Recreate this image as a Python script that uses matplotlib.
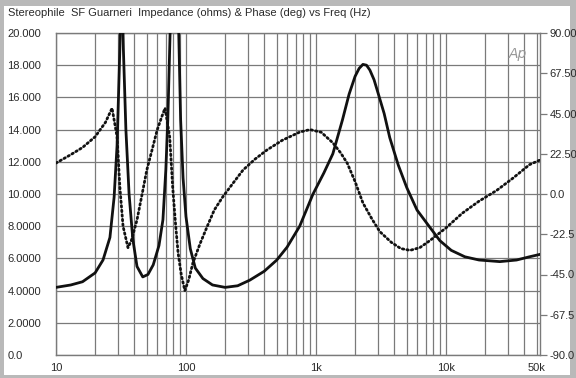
import matplotlib
matplotlib.use('Agg')
import matplotlib.pyplot as plt
from matplotlib.patches import Rectangle

# Data (Hz, ohms / degrees)
imp_freq = [10, 13, 16, 20, 23, 26, 28, 29.5, 31, 32, 33, 34.5, 36.5, 39, 42,
            46.5, 51, 56, 62, 66.5, 70, 72.5, 75.5, 80, 84, 88, 91, 95, 100,
            108, 118, 135, 160, 200, 250, 310, 400, 500, 600, 750, 950, 1150,
            1350, 1600, 1800, 2000, 2150, 2300, 2450, 2600, 2800, 3000, 3350,
            3700, 4300, 5000, 6000, 7500, 9000, 11000, 14000, 18000, 26000,
            35000, 44000, 53000]
imp_ohms = [4.2, 4.35, 4.55, 5.1, 5.9, 7.3, 9.8, 13.0, 19.0, 24.0, 19.0, 14.0,
            10.0, 7.2, 5.5, 4.85, 5.0, 5.6, 6.8, 8.4, 11.5, 14.6, 20.0, 27.0,
            28.0, 20.0, 14.6, 11.0, 8.6, 6.6, 5.4, 4.75, 4.35, 4.2, 4.3, 4.65,
            5.2, 5.9, 6.7, 8.0, 10.0, 11.3, 12.5, 14.6, 16.2, 17.3, 17.8, 18.05,
            18.0, 17.7, 17.1, 16.3, 15.0, 13.5, 11.8, 10.4, 9.0, 7.95, 7.1,
            6.5, 6.1, 5.9, 5.8, 5.9, 6.1, 6.25]

ph_freq = [10, 13, 16, 20, 24, 27, 29.5, 31, 32.8, 35.8, 38, 42, 46, 50, 55,
           60, 65, 69, 72, 75, 79, 83, 87, 92, 98, 105, 113, 128, 145, 165,
           192, 230, 275, 340, 420, 550, 750, 900, 1100, 1350, 1550, 1740,
           2000, 2300, 2700, 3100, 3800, 4500, 5300, 6300, 7550, 10000, 13400,
           18000, 24600, 33000, 44000, 53000]
ph_deg = [17.3, 22, 26, 32, 40, 48, 32, 4, -18, -30, -26, -14.5, 0, 13.5, 25,
          35.7, 43, 48, 40, 31.8, 4, -16, -33, -45, -54, -48, -38.6, -28,
          -18.5, -9, -1.6, 6, 13.4, 19.5, 24.6, 30, 34.6, 36, 34.5, 28.6, 23,
          17.3, 7, -5, -14, -21, -27, -30.5, -31.5, -30, -26, -19, -10.7, -4,
          2, 9, 16.4, 19]

grid_freqs = [f * m for m in (10, 100, 1000) for f in range(1, 10)] + [10000, 20000, 30000, 40000, 50000]
x_labels = {10: '10', 100: '100', 1000: '1k', 10000: '10k', 50000: '50k'}
ohm_ticks = [0, 2, 4, 6, 8, 10, 12, 14, 16, 18, 20]
ohm_labels = ['0.0', '2.0000', '4.0000', '6.0000', '8.0000', '10.000',
              '12.000', '14.000', '16.000', '18.000', '20.000']
deg_ticks = [-90, -67.5, -45, -22.5, 0, 22.5, 45, 67.5, 90]
deg_labels = ['-90.0', '-67.5', '-45.0', '-22.5', '0.0', '22.50', '45.00', '67.50', '90.00']

plt.rcParams['font.family'] = ['Liberation Sans', 'DejaVu Sans']
txt = '#2a2a2a'
gridc = '#7a7a7a'

W, H = 576, 378
fig = plt.figure(figsize=(W / 100, H / 100), dpi=100, facecolor='#b9b9b9')
fig.patches.append(Rectangle((4 / W, 3 / H), 566 / W, 369 / H,
                             transform=fig.transFigure, facecolor='white',
                             edgecolor='none', zorder=-10))

ax = fig.add_axes([56 / W, (H - 355) / H, 484 / W, 322 / H])
ax.set_xscale('log')
ax.patch.set_alpha(0)

ax.set_xticks(grid_freqs)
ax.set_xticklabels([x_labels.get(f, '') for f in grid_freqs])
ax.xaxis.set_minor_locator(matplotlib.ticker.NullLocator())
ax.set_yticks(ohm_ticks)
ax.set_yticklabels(ohm_labels, ha='left')
ax.set_xlim(10, 53000)
ax.set_ylim(0, 20)
ax.tick_params(axis='y', length=0, pad=35, labelsize=8, colors=txt)
ax.tick_params(axis='x', length=0, pad=6, labelsize=8, colors=txt)
ax.grid(True, color=gridc, linewidth=0.9)
for s in ax.spines.values():
    s.set_color(gridc)
    s.set_linewidth(1.0)

ax.plot(imp_freq, imp_ohms, color='#111111', linewidth=2.0, zorder=3,
        solid_joinstyle='round')

ax2 = ax.twinx()
ax2.set_yticks(deg_ticks)
ax2.set_yticklabels(deg_labels, ha='left')
ax2.set_ylim(-90, 90)
ax2.tick_params(axis='y', length=5, width=0.9, color=gridc, pad=2,
                labelsize=8, labelcolor=txt)
for s in ax2.spines.values():
    s.set_visible(False)
ax2.plot(ph_freq, ph_deg, color='#111111', linewidth=2.0,
         linestyle=(0, (0.55, 1.1)), dash_capstyle='round', zorder=3)

ax.text(0.955, 0.955, 'Ap', transform=ax.transAxes, fontsize=10,
        style='italic', color='#999999', ha='center', va='top',
        family=['DejaVu Sans'], zorder=5)

fig.text(8 / W, 1 - 13 / H,
         'Stereophile  SF Guarneri  Impedance (ohms) & Phase (deg) vs Freq (Hz)',
         fontsize=8, color=txt, ha='left', va='center')

fig.savefig('out.png', dpi=100, facecolor=fig.get_facecolor())
